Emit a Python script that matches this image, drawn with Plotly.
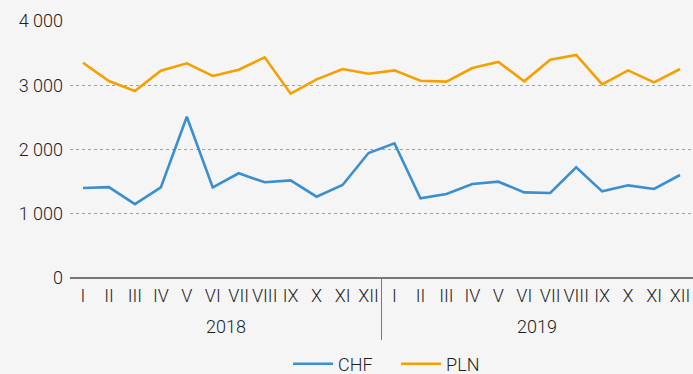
import plotly.graph_objects as go

# Monthly values, 2018-2019
months = ["I", "II", "III", "IV", "V", "VI", "VII", "VIII", "IX", "X", "XI", "XII"]
years = ["2018", "2019"]

chf = [1400, 1415, 1150, 1410, 2510, 1410, 1630, 1490, 1520, 1265, 1447, 1945,
       2096, 1240, 1307, 1463, 1499, 1333, 1323, 1723, 1349, 1442, 1385, 1603]
pln = [3350, 3066, 2910, 3227, 3341, 3144, 3242, 3435, 2869, 3092, 3253, 3180,
       3232, 3071, 3056, 3268, 3362, 3061, 3398, 3471, 3015, 3232, 3045, 3253]

y_ticks = [0, 1000, 2000, 3000, 4000]

x_idx = list(range(len(chf)))
tick_text = months * len(years)

FONT = "Roboto"
TEXT = "#1e1e1e"

fig = go.Figure()
fig.add_trace(go.Scatter(x=x_idx, y=chf, name="CHF", mode="lines",
                         line=dict(color="#3b8fd1", width=2.6)))
fig.add_trace(go.Scatter(x=x_idx, y=pln, name="PLN", mode="lines",
                         line=dict(color="#f5a000", width=2.6)))

# year labels under the month ticks
n = len(months)
for i, yr in enumerate(years):
    fig.add_annotation(x=i * n + (n - 1) / 2, y=-0.187, xref="x", yref="paper",
                       text=yr, showarrow=False, yanchor="middle",
                       font=dict(family=FONT, size=18, color=TEXT, weight=300))

# divider between years
for i in range(1, len(years)):
    fig.add_shape(type="line", xref="x", yref="paper",
                  x0=i * n - 0.5, x1=i * n - 0.5, y0=0, y1=-0.241,
                  line=dict(color="#777777", width=1))

fig.update_layout(
    width=693, height=374,
    margin=dict(l=70, r=0, t=21, b=96, autoexpand=False),
    paper_bgcolor="#f5f5f5", plot_bgcolor="#f5f5f5",
    separators=", ",
    font=dict(family=FONT, size=18, color=TEXT, weight=300),
    showlegend=True,
    legend=dict(orientation="h", x=0.35, xanchor="left", y=-0.335,
                yanchor="middle", itemwidth=40, entrywidth=53,
                entrywidthmode="pixels",
                font=dict(family=FONT, size=18, color=TEXT, weight=300),
                bgcolor="rgba(0,0,0,0)"),
    xaxis=dict(tickmode="array", tickvals=x_idx, ticktext=tick_text,
               range=[-0.5, len(x_idx) - 0.5], showgrid=False, zeroline=False,
               showline=False, ticks="", tickangle=0, ticklabelstandoff=5,
               automargin=False,
               tickfont=dict(family=FONT, size=18, color=TEXT, weight=300)),
    yaxis=dict(tickmode="array", tickvals=y_ticks, range=[0, 4000],
               tickformat=",d", showgrid=True, gridcolor="#a0a0a0",
               griddash="dot", gridwidth=1, zeroline=True, zerolinecolor="#777777",
               zerolinewidth=1.5, showline=False, ticks="", ticklabelstandoff=6,
               automargin=False,
               tickfont=dict(family=FONT, size=18, color=TEXT, weight=300)),
)

fig.write_html("out.html")
